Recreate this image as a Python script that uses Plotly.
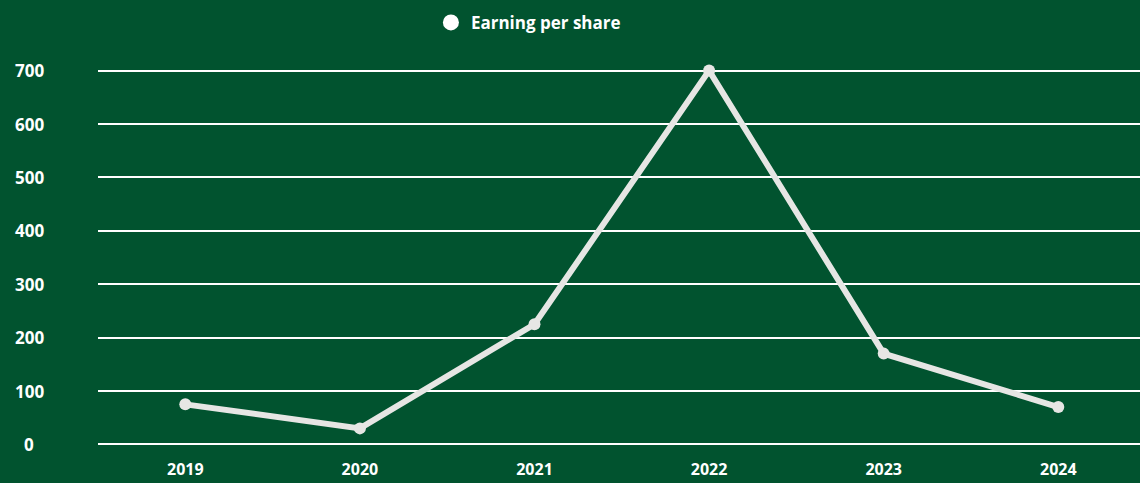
import plotly.graph_objects as go

years = ["2019", "2020", "2021", "2022", "2023", "2024"]
eps = [75, 30, 225, 700, 170, 70]
y_ticks = [0, 100, 200, 300, 400, 500, 600, 700]

BG = "#01532F"
LINE = "#E6E6E4"
FONT = "Open Sans"

fig = go.Figure()

# main series (legend handled by a marker-only entry)
fig.add_trace(go.Scatter(
    x=years, y=eps, mode="lines+markers",
    line=dict(color=LINE, width=6),
    marker=dict(color=LINE, size=12),
    showlegend=False, cliponaxis=False,
    hovertemplate="%{x}: %{y}<extra></extra>",
))
fig.add_trace(go.Scatter(
    x=[None], y=[None], mode="markers", name="Earning per share",
    marker=dict(color="white", size=16),
))

# plot area spans pixels 98..1140 horizontally
LEFT = 98
PLOT_W = 1140 - LEFT

# y tick labels, centred in the left gutter
for v in y_ticks:
    fig.add_annotation(
        x=(29 - LEFT) / PLOT_W, xref="paper", y=v, yref="y", text=str(v),
        showarrow=False, xanchor="center", yanchor="middle",
        font=dict(family=FONT, size=17, color="white", weight="bold"),
    )

fig.update_layout(
    width=1140, height=483,
    paper_bgcolor=BG, plot_bgcolor=BG,
    margin=dict(l=LEFT, r=0, t=69, b=37),
    font=dict(family=FONT, size=16, color="white", weight="bold"),
    legend=dict(
        orientation="h", xref="container", yref="container",
        x=0.378, y=0.99, xanchor="left", yanchor="top",
        font=dict(family=FONT, size=17, color="white", weight="bold"),
        bgcolor="rgba(0,0,0,0)",
    ),
    xaxis=dict(
        type="category", range=[-0.5, 5.468],
        showgrid=False, zeroline=False, showline=False,
        ticks="", ticklabelstandoff=12,
        tickfont=dict(family=FONT, size=16, color="white", weight="bold"),
    ),
    yaxis=dict(
        range=[-3, 703], tickvals=y_ticks, showticklabels=False,
        showgrid=True, gridcolor="white", gridwidth=2,
        zeroline=False, showline=False, ticks="",
    ),
)

fig.write_html("out.html")
